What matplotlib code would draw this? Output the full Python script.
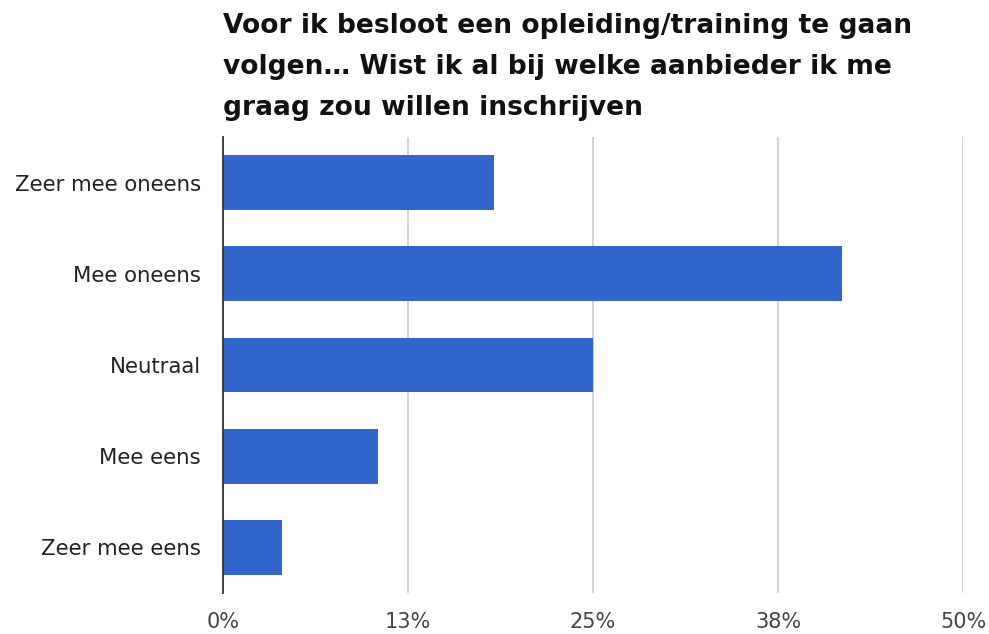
import matplotlib.pyplot as plt

# answer shares per category (percent of respondents)
categories = ['Zeer mee oneens', 'Mee oneens', 'Neutraal', 'Mee eens', 'Zeer mee eens']
shares = [18.3, 41.8, 25.0, 10.5, 4.0]
tick_values = [0, 12.5, 25, 37.5, 50]
tick_labels = ['0%', '13%', '25%', '38%', '50%']
title_lines = ['Voor ik besloot een opleiding/training te gaan',
               'volgen\u2026 Wist ik al bij welke aanbieder ik me',
               'graag zou willen inschrijven']

plt.rcParams['font.family'] = ['DejaVu Sans']

W, H = 989, 634
fig = plt.figure(figsize=(W / 100, H / 100), dpi=100)
ax = fig.add_axes([223 / W, 1 - 593 / H, 740 / W, 456 / H])

ypos = list(range(len(categories)))
ax.barh(ypos, shares, height=0.6, color='#3366cc', zorder=3)
ax.set_ylim(len(categories) - 0.5, -0.5)
ax.set_xlim(0, 50)

ax.set_yticks(ypos)
ax.set_yticklabels(categories, fontsize=15.3, color='#222222')
ax.set_xticks(tick_values)
ax.set_xticklabels(tick_labels, fontsize=15, color='#444444')
ax.tick_params(axis='y', length=0, pad=16)
ax.tick_params(axis='x', length=0, pad=14)

ax.grid(axis='x', color='#cccccc', linewidth=1.2, zorder=0)
for side in ['top', 'right', 'bottom']:
    ax.spines[side].set_visible(False)
ax.spines['left'].set_color('#333333')
ax.spines['left'].set_linewidth(1.3)
ax.spines['left'].set_zorder(4)

# three-line bold title, one baseline per line
for i, line in enumerate(title_lines):
    fig.text(223 / W, 1 - (33 + 41 * i) / H, line, ha='left', va='baseline',
             fontsize=19.1, fontweight='bold', color='#111111')

fig.savefig('out.png', dpi=100)
